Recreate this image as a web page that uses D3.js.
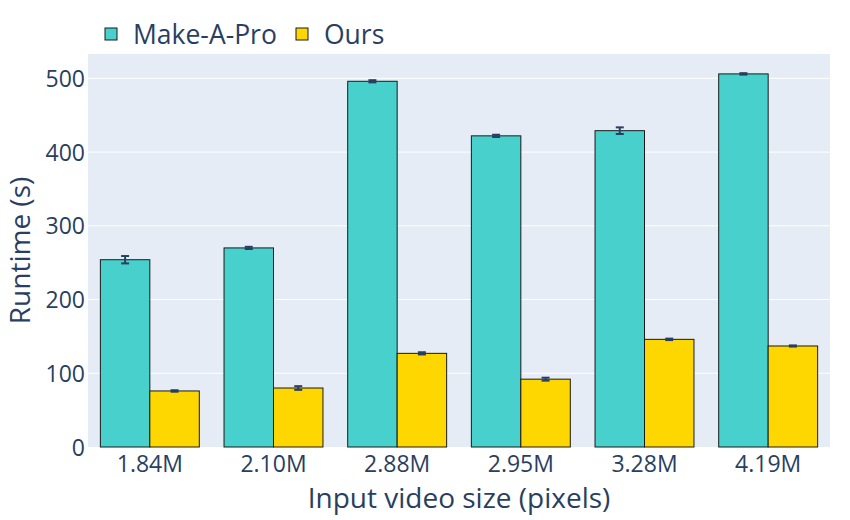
<!DOCTYPE html>
<meta charset="utf-8">
<style>
body {
  margin: 0;
  background: #fff;
}
text {
  font-family: "Open Sans", sans-serif;
  fill: #2a3f5f;
}
.grid line {
  stroke: #fff;
  stroke-width: 1px;
}
</style>
<svg></svg>
<script src="https://cdn.jsdelivr.net/npm/d3@7"></script>
<script>

// data
var sizes = ["1.84M", "2.10M", "2.88M", "2.95M", "3.28M", "4.19M"];
var seriesNames = ["Make-A-Pro", "Ours"];
var makeAPro = [254, 270, 496, 422, 429, 506];
var makeAProErr = [5, 1.5, 1.5, 1.5, 4.5, 1];
var ours = [76, 80, 127, 92, 146, 137];
var oursErr = [1, 2.5, 1.5, 2, 1, 0.8];
var yTicks = [0, 100, 200, 300, 400, 500];

var colors = ["#48D1CC", "#FFD700"];

var width = 850,
    height = 520,
    margin = {top: 54, right: 20, bottom: 73, left: 88};

var svg = d3.select("svg")
    .attr("width", width)
    .attr("height", height);

var w = width - margin.left - margin.right,
    h = height - margin.top - margin.bottom;

var g = svg.append("g")
    .attr("transform", "translate(" + margin.left + "," + margin.top + ")");

var x = d3.scaleBand()
    .domain(sizes)
    .range([0, w])
    .paddingInner(0.2)
    .paddingOuter(0.1);

var x1 = d3.scaleBand()
    .domain(seriesNames)
    .range([0, x.bandwidth()]);

var y = d3.scaleLinear()
    .domain([0, 533])
    .range([h, 0]);

g.append("rect")
    .attr("width", w)
    .attr("height", h)
    .attr("fill", "#E5ECF6");

// gridlines
g.append("g")
    .attr("class", "grid")
  .selectAll("line")
    .data(yTicks.slice(1))
  .enter().append("line")
    .attr("x1", 0)
    .attr("x2", w)
    .attr("y1", function(d) { return y(d); })
    .attr("y2", function(d) { return y(d); });

var rows = sizes.map(function(s, i) {
  return [
    {key: s, name: seriesNames[0], v: makeAPro[i], e: makeAProErr[i], c: colors[0]},
    {key: s, name: seriesNames[1], v: ours[i], e: oursErr[i], c: colors[1]}
  ];
});

var groups = g.selectAll("g.cat")
    .data(rows)
  .enter().append("g")
    .attr("class", "cat")
    .attr("transform", function(d) { return "translate(" + x(d[0].key) + ",0)"; });

groups.selectAll("rect")
    .data(function(d) { return d; })
  .enter().append("rect")
    .attr("x", function(d) { return x1(d.name); })
    .attr("y", function(d) { return y(d.v); })
    .attr("width", x1.bandwidth())
    .attr("height", function(d) { return h - y(d.v); })
    .attr("fill", function(d) { return d.c; })
    .attr("stroke", "#1a1a1a")
    .attr("stroke-width", 1);

// error bars
var err = groups.selectAll("g.err")
    .data(function(d) { return d; })
  .enter().append("g")
    .attr("class", "err")
    .attr("stroke", "#2a3f5f")
    .attr("stroke-width", 2);

err.append("line")
    .attr("x1", function(d) { return x1(d.name) + x1.bandwidth() / 2; })
    .attr("x2", function(d) { return x1(d.name) + x1.bandwidth() / 2; })
    .attr("y1", function(d) { return y(d.v + d.e); })
    .attr("y2", function(d) { return y(d.v - d.e); });

[1, -1].forEach(function(s) {
  err.append("line")
      .attr("x1", function(d) { return x1(d.name) + x1.bandwidth() / 2 - 4; })
      .attr("x2", function(d) { return x1(d.name) + x1.bandwidth() / 2 + 4; })
      .attr("y1", function(d) { return y(d.v + s * d.e); })
      .attr("y2", function(d) { return y(d.v + s * d.e); });
});

// axes
var yAxis = g.append("g")
    .call(d3.axisLeft(y).tickValues(yTicks).tickSize(0).tickPadding(3));
yAxis.select(".domain").remove();
yAxis.selectAll("text")
    .attr("fill", "#2a3f5f")
    .style("font-size", "23px")
    .attr("dy", "0.35em");

var xAxis = g.append("g")
    .attr("transform", "translate(0," + h + ")")
    .call(d3.axisBottom(x).tickSize(0).tickPadding(9));
xAxis.select(".domain").remove();
xAxis.selectAll("text")
    .attr("fill", "#2a3f5f")
    .style("font-size", "23px");

svg.append("text")
    .attr("x", margin.left + w / 2)
    .attr("y", 508)
    .attr("text-anchor", "middle")
    .style("font-size", "28px")
    .text("Input video size (pixels)");

svg.append("text")
    .attr("transform", "translate(30," + (margin.top + h / 2) + ") rotate(-90)")
    .attr("text-anchor", "middle")
    .style("font-size", "28px")
    .text("Runtime (s)");

// legend
var legend = svg.append("g")
    .attr("transform", "translate(105,28)");

var lx = [0, 191];
seriesNames.forEach(function(name, i) {
  var item = legend.append("g")
      .attr("transform", "translate(" + lx[i] + ",0)");
  item.append("rect")
      .attr("width", 12)
      .attr("height", 12)
      .attr("fill", colors[i])
      .attr("stroke", "#1a1a1a")
      .attr("stroke-width", 1);
  item.append("text")
      .attr("x", 28)
      .attr("y", 16)
      .style("font-size", "26.5px")
      .text(name);
});

</script>
